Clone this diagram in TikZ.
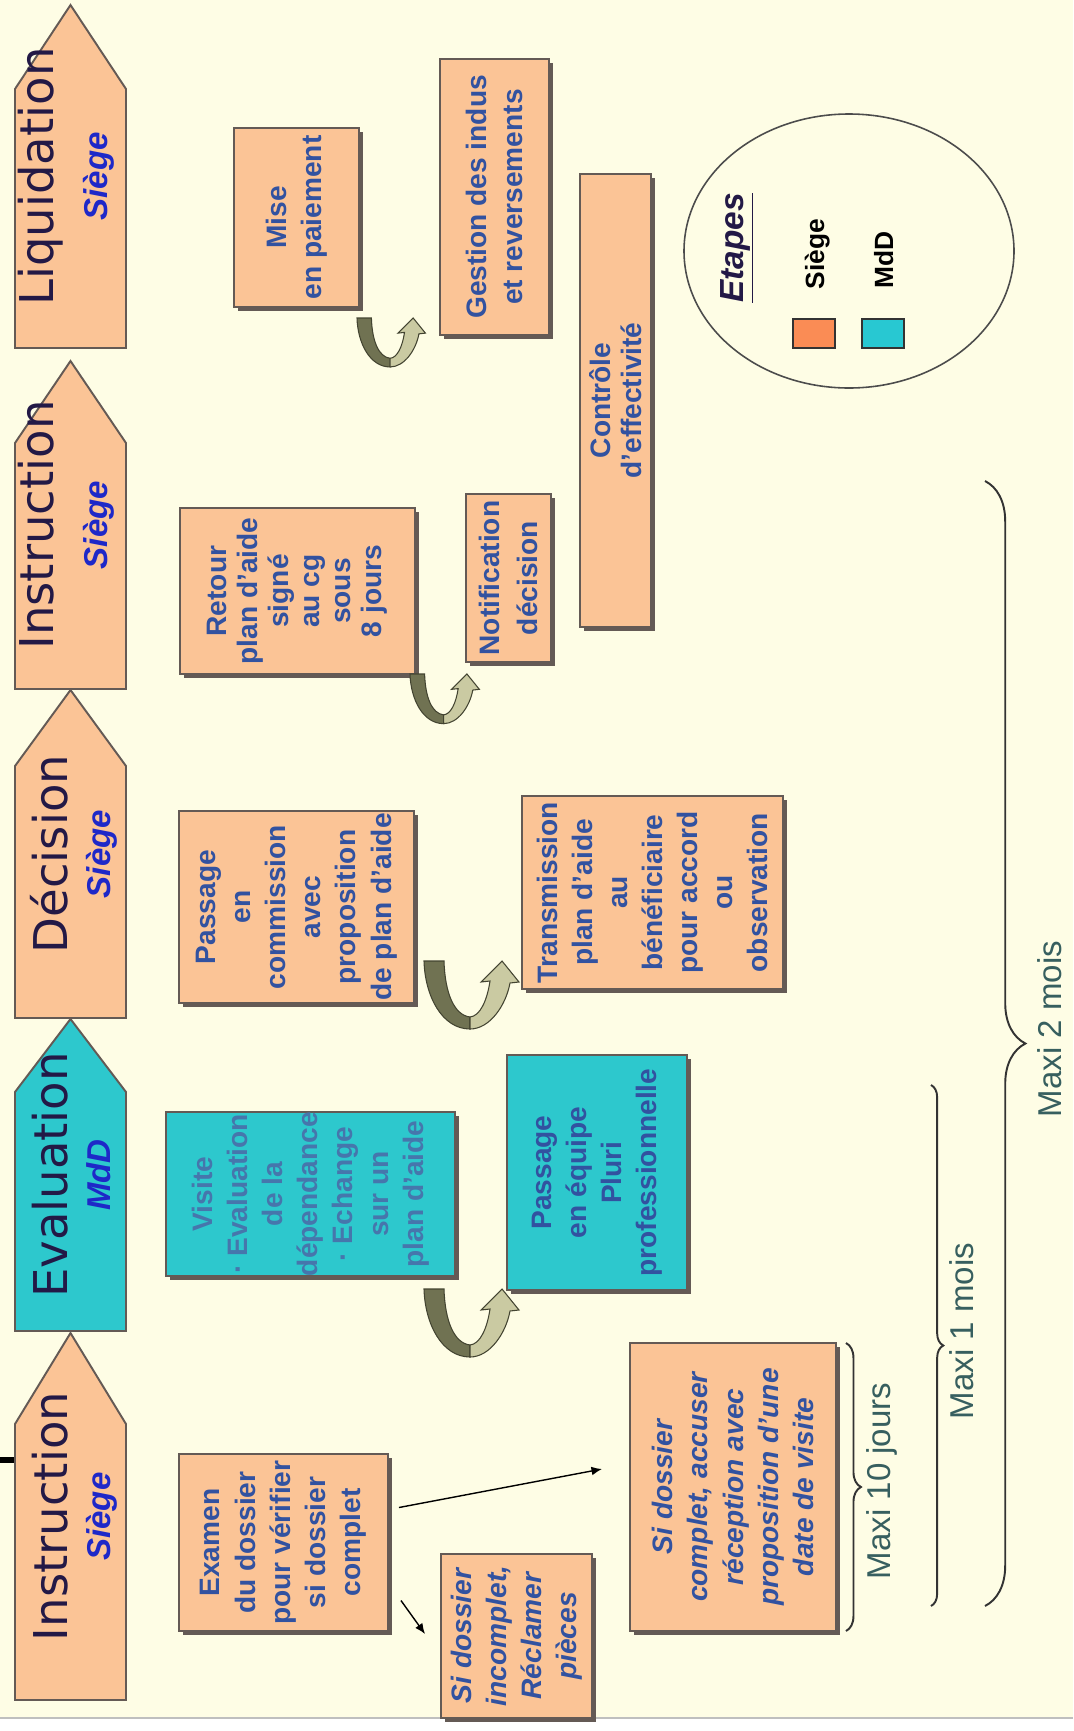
\documentclass[tikz,border=0pt]{standalone}
\usepackage{fontspec}
\setmainfont{Liberation Sans}
\newfontfamily\stagefont{DejaVu Sans}
\usepackage{tikz}
\usetikzlibrary{positioning, calc, arrows.meta, shapes.geometric, shadows, decorations.pathreplacing}

\definecolor{cream}{RGB}{254,253,229}
\definecolor{peach}{RGB}{251,196,150}
\definecolor{turq}{RGB}{45,200,205}
\definecolor{edge}{RGB}{100,90,85}
\definecolor{boxtext}{RGB}{50,82,160}
\definecolor{softtext}{RGB}{70,118,172}
\definecolor{titletext}{RGB}{35,25,70}
\definecolor{subtext}{RGB}{30,40,200}
\definecolor{delaytext}{RGB}{55,95,95}
\definecolor{udark}{RGB}{112,114,82}
\definecolor{ulight}{RGB}{202,202,162}
\definecolor{keyorange}{RGB}{250,140,85}
\definecolor{keycyan}{RGB}{40,200,210}

\tikzset{
  stage/.style = {draw=edge, line width=1.1pt},
  stagetitle/.style = {rotate=90, anchor=base, inner sep=0, text=titletext,
    font=\stagefont\fontsize{26.5}{30}\selectfont},
  stagesub/.style = {rotate=90, anchor=base, inner sep=0, text=subtext,
    font=\fontsize{18.8}{22}\selectfont\bfseries\itshape},
  box/.style = {rotate=90, draw=edge, line width=1.1pt, fill=peach, align=center,
    inner sep=0, text=boxtext, font=\fontsize{16}{20}\selectfont\bfseries,
    drop shadow={shadow xshift=2pt, shadow yshift=-2pt, fill=edge, opacity=1}},
  mddbox/.style = {box, fill=turq},
  boxsize/.style 2 args = {minimum width=#2*0.02cm, minimum height=#1*0.02cm},
  delay/.style = {rotate=90, anchor=base, inner sep=0, text=delaytext,
    font=\fontsize{18.8}{22}\selectfont},
  span/.style = {decorate, decoration={brace, amplitude=#1}, draw=black!80, line width=1.1pt},
  flow/.style = {-{Latex[length=6pt, width=5pt]}, line width=0.8pt},
  key/.style = {draw=black!80, line width=1pt, minimum width=42*0.02cm, minimum height=29*0.02cm},
  uturn/.pic = {
    \filldraw[fill=udark, draw=udark!60!black, line width=0.6pt]
      (0,0) .. controls (1,35) and (18,68) .. (46,68) -- (46,56)
      .. controls (30,54) and (21,32) .. (20,0) -- cycle;
    \filldraw[fill=ulight, draw=udark!60!black, line width=0.6pt]
      (46,68) .. controls (66,68) and (82,44) .. (86,22) -- (95,21) -- (78,0)
      -- (57,21) -- (66,20) .. controls (63,40) and (56,55) .. (46,56) -- cycle;
  }
}

\begin{document}
\begin{tikzpicture}[x=0.02cm, y=-0.02cm]
  \useasboundingbox (0,0) rectangle (1073,1731);
  \fill[cream] (0,0) rectangle (1073,1718);
  \draw[black!25, line width=1.2pt] (0,1718) -- (1073,1718);
  \draw[line width=3.5pt] (0,1460) -- (15,1460);

  % stages
  \foreach \tip/\sh/\bot/\col in {5/89/348/peach, 361/443/689/peach, 690/766/1018/peach,
                                  1019/1092/1331/turq, 1333/1424/1700/peach}
    \draw[stage, fill=\col] (15,\bot) -- (15,\sh) -- (70.5,\tip) -- (126,\sh) -- (126,\bot) -- cycle;

  \node [stagetitle] (liq)    at ( 53, 176.5) {Liquidation};
  \node [stagesub]   (liqs)   at (107, 176.5) {Siège};
  \node [stagetitle] (instb)  at ( 53, 525)   {Instruction};
  \node [stagesub]   (instbs) at (107, 525)   {Siège};
  \node [stagetitle] (dec)    at ( 67, 854)   {Décision};
  \node [stagesub]   (decs)   at (110, 854)   {Siège};
  \node [stagetitle] (eval)   at ( 67, 1175)  {Evaluation};
  \node [stagesub]   (evals)  at (110, 1175)  {MdD};
  \node [stagetitle] (insta)  at ( 67, 1516.5){Instruction};
  \node [stagesub]   (instas) at (110, 1516.5){Siège};

  % tasks
  \node [box, boxsize={125}{179}] (mise)    at (296.5, 217.5) {Mise\\en paiement};
  \node [box, boxsize={109}{276}] (gestion) at (494.5, 197)   {Gestion des indus\\et reversements};
  \node [box, boxsize={71}{453}, font=\fontsize{16}{17.6}\selectfont\bfseries]
        (controle) at (615.5, 400.5) {Contrôle\\d'effectivité};
  \node [box, boxsize={235}{166}, font=\fontsize{16}{17.6}\selectfont\bfseries]
        (retour) at (297.5, 591) {Retour\\plan d'aide\\signé\\au cg\\sous\\8 jours};
  \node [box, boxsize={85}{168}, font=\fontsize{16}{21.5}\selectfont\bfseries]
        (notif) at (508.5, 578) {Notification\\décision};
  \node [box, boxsize={235}{192}] (commission) at (296.5, 907)
        {Passage\\en\\commission\\avec\\proposition\\de plan d'aide};
  \node [box, boxsize={261}{193}] (transmission) at (652.5, 892.5)
        {Transmission\\plan d'aide\\au\\bénéficiaire\\pour accord\\ou\\observation};
  \node [mddbox, boxsize={289}{164}, text=softtext] (visite) at (310.5, 1194)
        {Visite\\· Evaluation\\de la\\dépendance\\· Echange\\sur un\\plan d'aide};
  \node [mddbox, boxsize={180}{235}] (equipe) at (597, 1172.5)
        {Passage\\en équipe\\Pluri\\professionnelle};
  \node [box, boxsize={209}{177}] (examen) at (283.5, 1542.5)
        {Examen\\du dossier\\pour vérifier\\si dossier\\complet};
  \node [box, boxsize={151}{164}, font=\fontsize{16}{20}\selectfont\bfseries\itshape]
        (incomplet) at (516.5, 1636) {Si dossier\\incomplet,\\Réclamer\\pièces};
  \node [box, boxsize={206}{288}, font=\fontsize{16}{20}\selectfont\bfseries\itshape]
        (complet) at (733, 1487)
        {Si dossier\\complet, accuser\\réception avec\\proposition d'une\\date de visite};

  \pic [scale=0.72] at (357, 318)  {uturn};
  \pic [scale=0.73] at (410, 674)  {uturn};
  \pic at (424, 961)  {uturn};
  \pic at (424, 1289) {uturn};

  \draw [flow] ($(examen.south)+(10,-35)$) -- ($(complet.north)+(-27,-18)$);
  \draw [flow] ($(examen.south)+(12,58)$)  -- ($(incomplet.north)+(-15,-2)$);

  % delays
  \draw [span=8.5pt] (846,1343) -- (846,1631);
  \draw [span=7pt]   (931,1085) -- (931,1606);
  \draw [span=23pt]  (985,481)  -- (985,1606);
  \node [delay] (d10) at (890, 1481) {Maxi 10 jours};
  \node [delay] (d1)  at (973, 1331) {Maxi 1 mois};
  \node [delay] (d2)  at (1061, 1029) {Maxi 2 mois};

  % legend
  \node [ellipse, draw=black!70, line width=0.9pt, inner sep=0,
         minimum width=330*0.02cm, minimum height=274*0.02cm] (legend) at (849, 251) {};
  \node [rotate=90, anchor=base, inner sep=0, text=titletext,
         font=\fontsize{19}{22}\selectfont\bfseries\itshape] (etapes) at (743, 248) {\underline{Etapes}};
  \node [rotate=90, anchor=base, inner sep=0, font=\fontsize{15}{18}\selectfont\bfseries] (ksiege) at (824, 254) {Siège};
  \node [rotate=90, anchor=base, inner sep=0, font=\fontsize{15}{18}\selectfont\bfseries] (kmdd)   at (893, 260) {MdD};
  \node [key, fill=keyorange] (korange) at (814, 333.5) {};
  \node [key, fill=keycyan]   (kcyan)   at (883, 333.5) {};
\end{tikzpicture}
\end{document}
